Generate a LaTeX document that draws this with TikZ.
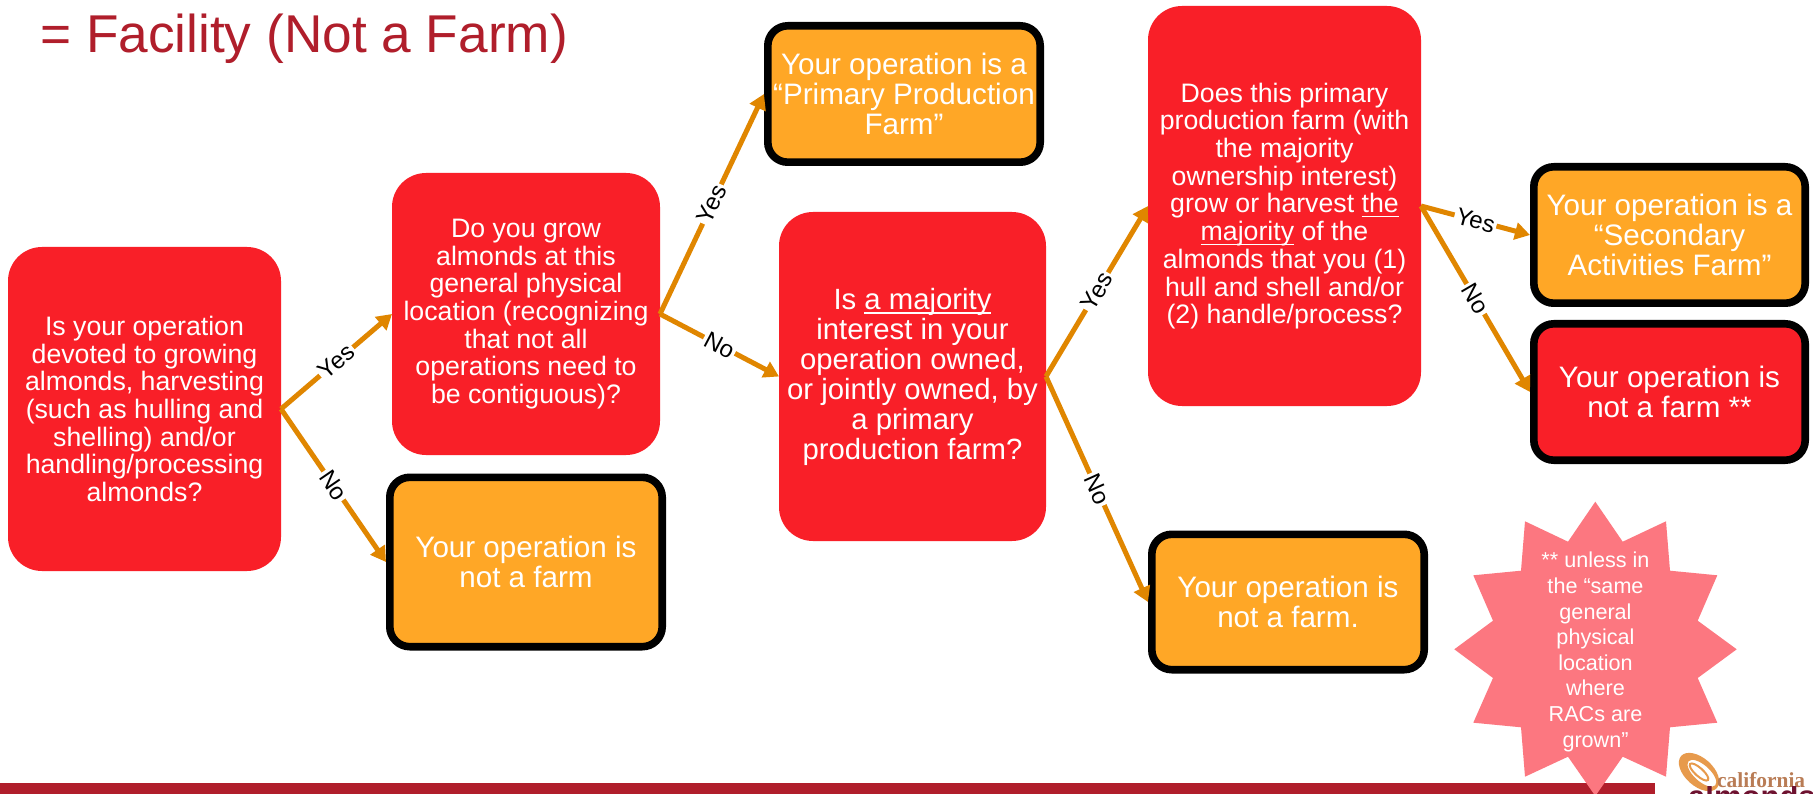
\documentclass[tikz,border=0pt]{standalone}
\usepackage{fontspec}
\setmainfont{Liberation Sans}
\newfontfamily\logofont{Liberation Serif}
\usetikzlibrary{arrows.meta}
\definecolor{redbox}{HTML}{F91F28}
\definecolor{orangebox}{HTML}{FFA726}
\definecolor{arrowc}{HTML}{E08600}
\definecolor{titlec}{HTML}{B01E2B}
\definecolor{starc}{HTML}{FC7780}
\definecolor{logoorange}{HTML}{E79A4C}
\definecolor{logobrown}{HTML}{B97C55}
\definecolor{logomaroon}{HTML}{6E1230}
\newcommand{\myul}[1]{\leavevmode\setbox0=\hbox{#1}\rlap{\rule[-4.5pt]{\wd0}{1.6pt}}\box0 }
\tikzset{
 x=1pt,y=-1pt,
 qbox/.style={draw=none,fill=redbox,text=white,rounded corners=34pt,align=center,inner sep=0pt,outer sep=0pt,font=\fontsize{26.7}{27.7}\selectfont},
 abox/.style={draw=black,line width=7.6pt,rounded corners=20pt,text=white,align=center,inner sep=0pt,font=\fontsize{29.6}{30}\selectfont},
 conn/.style={draw=arrowc,line width=5pt,-{Triangle[length=15pt,width=17pt]}},
 lab/.style={midway,sloped,fill=white,text=black,inner sep=2pt,font=\fontsize{24}{26}\selectfont},
}
\begin{document}
\begin{tikzpicture}
\useasboundingbox (0,0) rectangle (1813,794);
\fill[white] (0,0) rectangle (1813,794);
\node[anchor=base west,inner sep=0pt,text=titlec,font=\fontsize{53.2}{60}\selectfont] (title) at (40,53) {= Facility (Not a Farm)};
\fill[titlec] (0,783) rectangle (1655,794);
\node[qbox,minimum width=273pt,minimum height=324pt] (q1) at (144.5,409) {Is your operation\\devoted to growing\\almonds, harvesting\\(such as hulling and\\shelling) and/or\\handling/processing\\almonds?};
\node[qbox,minimum width=268pt,minimum height=282pt] (q2) at (526,314) {Do you grow\\almonds at this\\general physical\\location (recognizing\\that not all\\operations need to\\be contiguous)?};
\node[qbox,minimum width=267pt,minimum height=329pt,font=\fontsize{29.3}{30}\selectfont] (q3) at (912.5,376.5) {Is \myul{a majority}\\interest in your\\operation owned,\\or jointly owned, by\\a primary\\production farm?};
\node[qbox,minimum width=273pt,minimum height=400pt] (q4) at (1284.5,206) {Does this primary\\production farm (with\\the majority\\ownership interest)\\grow or harvest \myul{the}\\\myul{majority} of the\\almonds that you (1)\\hull and shell and/or\\(2) handle/process?};
\node[abox,fill=orangebox,minimum width=272.4pt,minimum height=169.4pt] (a1) at (526,562) {Your operation is\\not a farm};
\node[abox,fill=orangebox,minimum width=272.4pt,minimum height=136.4pt] (a2) at (904,94) {Your operation is a\\“Primary Production\\Farm”};
\node[abox,fill=orangebox,minimum width=272.4pt,minimum height=135.4pt] (a3) at (1288,602) {Your operation is\\not a farm.};
\node[abox,fill=orangebox,minimum width=271.4pt,minimum height=136.4pt] (a4) at (1669.5,235) {Your operation is a\\“Secondary\\Activities Farm”};
\node[abox,fill=redbox,minimum width=271.4pt,minimum height=136.4pt] (a5) at (1669.5,392) {Your operation is\\not a farm **};
\draw[conn] (q1.east) -- node[lab]{Yes} (q2.west);
\draw[conn] (q1.east) -- node[lab]{No} (a1.west);
\draw[conn] (q2.east) -- node[lab]{Yes} (a2.west);
\draw[conn] (q2.east) -- node[lab]{No} (q3.west);
\draw[conn] (q3.east) -- node[lab]{Yes} (q4.west);
\draw[conn] (q3.east) -- node[lab]{No} (a3.west);
\draw[conn] (q4.east) -- node[lab]{Yes} (a4.west);
\draw[conn] (q4.east) -- node[lab]{No} (a5.west);
% star
\fill[starc] (1595.3,501.7)--(1622.7,541.7)--(1666,521.3)--(1670,570.7)--(1717.3,575.3)--(1697.7,620.7)--(1736.7,649.3)--(1697.7,678)--(1717.3,722.7)--(1670,727.3)--(1666,776.7)--(1622.7,756.7)--(1595.3,796)--(1568,756.7)--(1525,776.7)--(1521,727.3)--(1473.3,722.7)--(1493,678)--(1454.3,649.3)--(1493,620.7)--(1473.3,575.3)--(1521,570.7)--(1525,521.3)--(1568,541.7)--cycle;
\node[text=white,align=center,inner sep=0pt,font=\fontsize{21.6}{25.6}\selectfont] (note) at (1595.5,652) {** unless in\\the “same\\general\\physical\\location\\where\\RACs are\\grown”};
% logo
\begin{scope}[rotate around={-42:(1699,772)}]
\fill[logoorange,even odd rule] (1699,772) ellipse [x radius=24pt,y radius=14pt] (1702,771) ellipse [x radius=18pt,y radius=8pt];
\draw[logoorange,line width=2pt] (1699,772) ellipse [x radius=12pt,y radius=4pt];
\end{scope}
\node[anchor=base west,inner sep=0pt,text=logobrown,font=\logofont\bfseries\fontsize{21.4}{24}\selectfont] (logo) at (1717,787) {california};
\begin{scope}
\clip (1660,786) rectangle (1813,794);
\node[anchor=base west,inner sep=0pt,text=logomaroon,font=\bfseries\fontsize{31}{34}\selectfont] (logob) at (1688,807) {almonds};
\end{scope}
\end{tikzpicture}
\end{document}
